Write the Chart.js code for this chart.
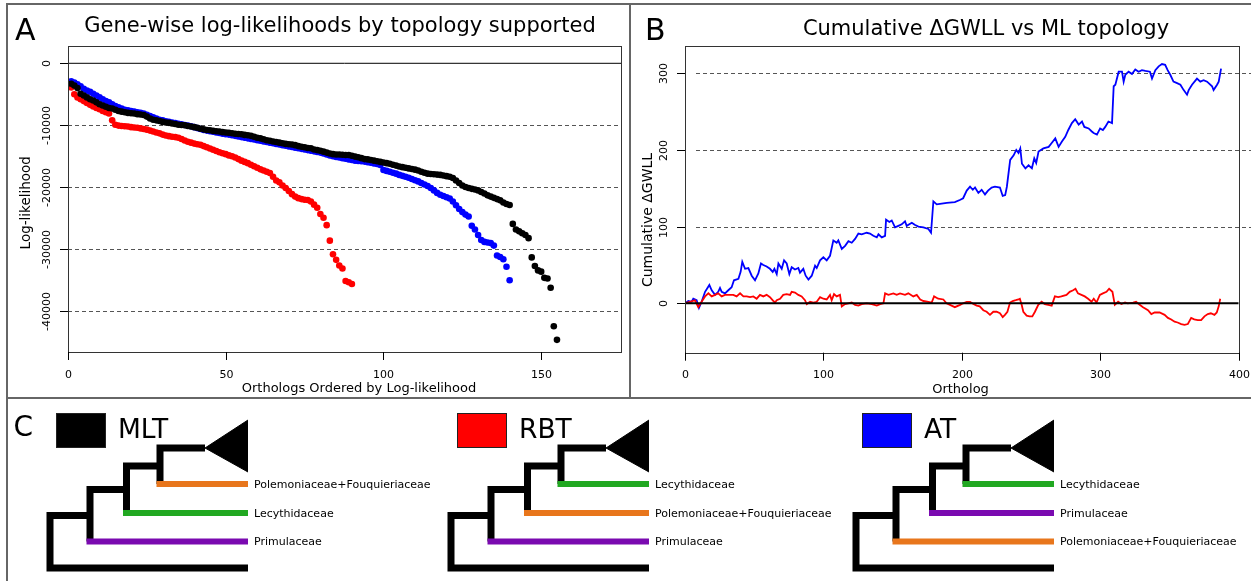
<!DOCTYPE html>
<html>
<head>
<meta charset="utf-8">
<script src="https://cdn.jsdelivr.net/npm/chart.js@4.4.1/dist/chart.umd.min.js"></script>
<style>
  body { margin: 0; background: #fff; width: 1251px; height: 581px; overflow: hidden; position: relative;
         font-family: "DejaVu Sans", sans-serif; color: #000; }
  canvas, .t, .ln { position: absolute; }
  .t { white-space: nowrap; }
  .ln { background: #666; }
</style>
</head>
<body>
<div class="ln" style="left:6px;top:3px;width:1245px;height:2px"></div>
<div class="ln" style="left:6px;top:3px;width:2px;height:578px"></div>
<div class="ln" style="left:629px;top:3px;width:2px;height:396px"></div>
<div class="ln" style="left:6px;top:397px;width:1245px;height:2px"></div>

<canvas id="chartA" width="629" height="398" style="left:0;top:0"></canvas>
<canvas id="chartB" width="622" height="398" style="left:629px;top:0"></canvas>
<canvas id="chartC" width="1251" height="183" style="left:0;top:398px"></canvas>

<script>
// --- Panel A: gene-wise log-likelihoods, sorted, one array per topology ---
const aMLT = [
  -3300,-3600,-4000,-4900,-5200,-5500,-5800,-6000,-6300,-6600,
  -6800,-7000,-7200,-7300,-7500,-7700,-7800,-7900,-8000,-8050,
  -8100,-8200,-8250,-8350,-8600,-8900,-9100,-9200,-9300,-9450,
  -9550,-9600,-9700,-9800,-9900,-9950,-10000,-10100,-10200,-10300,
  -10400,-10550,-10650,-10750,-10800,-10900,-10950,-11000,-11100,-11150,
  -11200,-11280,-11350,-11400,-11450,-11550,-11600,-11700,-11850,-12000,
  -12100,-12250,-12400,-12500,-12600,-12700,-12800,-12900,-13000,-13050,
  -13100,-13200,-13350,-13450,-13550,-13650,-13700,-13900,-14000,-14100,
  -14250,-14400,-14550,-14650,-14700,-14720,-14750,-14780,-14800,-14900,
  -15050,-15150,-15300,-15450,-15500,-15600,-15700,-15800,-15900,-16000,
  -16100,-16200,-16350,-16500,-16650,-16750,-16850,-16950,-17050,-17150,
  -17300,-17500,-17650,-17800,-17850,-17900,-17950,-18000,-18100,-18200,
  -18300,-18500,-18900,-19300,-19700,-19950,-20100,-20250,-20350,-20500,
  -20750,-21000,-21300,-21500,-21700,-21900,-22100,-22450,-22700,-22850,
  -25900,-26800,-27100,-27400,-27700,-28200,-31300,-32700,-33400,-33600,
  -34600,-34700,-36200,-42400,-44600
];
const aAT = [
  -2900,-3100,-3400,-3700,-4100,-4400,-4600,-4900,-5200,-5500,
  -5800,-6100,-6300,-6600,-6900,-7100,-7300,-7500,-7600,-7700,
  -7800,-7900,-8000,-8100,-8300,-8500,-8700,-8900,-9100,-9200,
  -9350,-9450,-9550,-9650,-9750,-9850,-9950,-10050,-10150,-10300,
  -10450,-10600,-10750,-10850,-10950,-11050,-11150,-11250,-11350,-11450,
  -11500,-11600,-11700,-11800,-11900,-12000,-12100,-12200,-12300,-12400,
  -12500,-12600,-12700,-12800,-12900,-13000,-13100,-13200,-13300,-13400,
  -13500,-13600,-13700,-13800,-13900,-14000,-14100,-14200,-14300,-14400,
  -14550,-14700,-14850,-15000,-15100,-15200,-15300,-15400,-15500,-15600,
  -15700,-15750,-15800,-15850,-15950,-16050,-16150,-16250,-16400,-17200,
  -17350,-17500,-17650,-17800,-18000,-18150,-18300,-18450,-18650,-18850,
  -19050,-19300,-19550,-19800,-20100,-20500,-20900,-21200,-21400,-21600,
  -21800,-22300,-22900,-23500,-24000,-24400,-24700,-26200,-26800,-27700,
  -28500,-28800,-28900,-29000,-29400,-31000,-31250,-31600,-32800,-35000
];
const aRBT = [
  -3900,-5000,-5500,-5800,-6100,-6400,-6700,-6950,-7200,-7400,
  -7700,-7900,-8100,-9200,-9900,-10050,-10100,-10150,-10200,-10300,
  -10350,-10400,-10500,-10600,-10700,-10850,-11000,-11150,-11300,-11500,
  -11650,-11750,-11850,-11900,-12000,-12200,-12450,-12650,-12800,-12950,
  -13050,-13150,-13350,-13550,-13750,-13950,-14150,-14350,-14500,-14650,
  -14850,-15000,-15200,-15450,-15700,-15900,-16100,-16350,-16600,-16850,
  -17100,-17300,-17500,-17700,-18300,-18900,-19200,-19700,-20100,-20600,
  -21100,-21500,-21750,-21900,-22000,-22050,-22300,-22800,-23300,-24300,
  -24900,-26100,-28600,-30800,-31700,-32600,-33100,-35100,-35300,-35600
];
const aXTicks = [0, 50, 100, 150];
const aXLabels = ['0', '50', '100', '150'];
const aYTicks = [0, -10000, -20000, -30000, -40000];
const aYLabels = ['0', '-10000', '-20000', '-30000', '-40000'];
const aDashed = [-10000, -20000, -30000, -40000];

// --- Panel B: cumulative delta GWLL along orthologs ---
const bBlueX = [0,2.4,4.8,6,8.4,10.1,12,14.5,17.6,19.3,21.7,24,25.3,26.5,28.9,31.3,33.7,35.4,38.6,40.2,
  41.4,43.4,45.8,48.2,50.6,53,54.9,56.6,59,61.4,63.4,64.6,66.3,67.5,69.9,71.6,73.5,75.4,77.1,79.5,
  81.9,83.1,85.5,87.2,89.2,91.6,94,95.2,97.6,100,102.4,104.8,107.2,109.6,110.8,113.3,115.7,118.1,120.5,122.9,
  125.3,127.7,131.3,133.7,136.1,138.6,139.8,142.2,144.6,145.3,147.7,149.4,151.8,154.2,156.6,159,160.2,163.9,166.3,168.7,
  172.3,175.9,177.8,179.5,181.9,185.5,189.2,195,199,201,203.6,206,208,209.6,212,214.4,216.8,219,221.6,224,
  227.6,229.6,231.4,232.6,235,237.5,239.4,241,242.3,243.5,246,248.3,250.7,252.4,253.8,255.5,259,262.8,265,267.6,
  270,272.4,274.8,277,279.6,282,284.5,286.9,288.6,291.7,294,295.3,297.7,300,302,303.7,306,308.6,309.8,311,
  313.4,315.8,317,318.2,320.6,323,325.4,327.8,330.2,332.7,336,337.5,339.9,342.3,344.7,347,348.8,350.7,353,355.6,
  358,360.4,362.8,364,366.4,370,372.4,374.8,377.3,380.9,382,384.5,385.7,387.4];
const bBlueY = [0,3,2,6,4,-6,2,15,24,17,11,15,20,15,13,17,21,30,32,41,
  54,45,46,36,30,39,52,50,48,45,41,45,38,52,45,56,52,38,47,44,
  46,40,45,36,31,36,49,46,56,60,56,62,82,79,82,71,75,81,79,84,
  91,90,92,91,88,86,90,86,88,109,106,108,99,101,103,107,101,105,102,100,
  99,97,92,133,129,130,131,132,135,137,147,152,148,151,144,148,142,147,151,152,
  151,140,141,152,187,193,200,196,202,182,176,180,176,189,183,198,202,204,209,215,
  204,211,217,226,235,240,233,237,230,228,224,222,220,228,226,230,237,235,283,285,
  302,302,289,298,302,299,305,302,304,303,302,293,304,309,312,311,304,298,289,287,
  285,278,272,278,285,293,289,291,289,283,278,285,289,306];
const bRedX = [0,3.6,7.2,9.6,12,14.5,16.9,19.3,21.7,24,26.5,28.9,32.5,34.9,37.3,39.8,42.2,44.6,47,49.4,
  51.8,54.2,56.6,59,61.4,63.9,65,66.3,68.7,71,73.5,75.9,77.1,79.5,81.9,84.3,86.7,88,90.4,92.8,
  95.2,97.6,100,102.4,104.8,106,107.7,109.6,112,113.3,115.7,118.1,120.5,122.9,125.3,127.7,131.3,135,138.6,141,
  143.4,144.6,147,150.6,153,155.4,159,161.4,165,167.5,170,172.3,175.9,178.3,180,183,186.7,189,195,198.8,
  201,203.6,206,208.4,210.8,213,215.6,218,220.4,222.8,225.2,227.6,229.6,231.2,233,234.9,236.8,239,241,242,
  243.3,244.5,246.9,249,251,252.9,255.3,257.7,260,262.5,265,267.3,269.7,272,275.7,278,280.5,282.2,284,286.5,
  288.9,291.3,293.8,295.4,297.4,299.8,302,304.6,306.5,308.9,310.6,313,315.4,318,320,323.8,326,328.6,331,334.6,
  337,339.4,343,346.6,349,351.4,353.8,356,358.6,361,363.4,365.8,368,370.6,373,375.4,377.8,380,382.6,384.3,
  385.7,386.8];
const bRedY = [0,2,4,-5,2,9,13,9,11,13,9,11,11,11,9,13,9,9,8,9,
  6,11,9,11,8,3,1,4,6,11,12,11,15,14,11,9,4,-1,2,1,
  2,8,6,5,11,4,12,9,11,-4,-1,0,1,-2,-3,-1,0,-1,-3,-1,
  0,13,11,13,11,13,11,13,9,11,5,3,2,1,9,6,5,0,-5,-2,
  0,2,2,-1,-3,-4,-9,-11,-15,-11,-11,-13,-18,-15,-11,1,3,4,5,6,
  -2,-11,-16,-17,-17,-11,-2,2,-1,-2,-3,9,8,9,11,15,17,19,13,11,
  9,6,2,6,1,11,13,15,19,15,-2,2,-1,1,0,1,2,-2,-5,-9,
  -14,-12,-12,-15,-19,-21,-24,-25,-27,-28,-27,-19,-21,-22,-22,-17,-14,-13,-15,-12,
  -4,6];
const bXTicks = [0, 100, 200, 300, 400];
const bXLabels = ['0', '100', '200', '300', '400'];
const bYTicks = [0, 100, 200, 300];
const bYLabels = ['0', '100', '200', '300'];
const bDashed = [100, 200, 300];

// --- Panel C: the three topologies ---
const treeNames = ['MLT', 'RBT', 'AT'];
const treeSwatch = ['#000000', '#ff0000', '#0000ff'];
const treeTips = [
  ['Polemoniaceae+Fouquieriaceae', 'Lecythidaceae', 'Primulaceae'],
  ['Lecythidaceae', 'Polemoniaceae+Fouquieriaceae', 'Primulaceae'],
  ['Lecythidaceae', 'Primulaceae', 'Polemoniaceae+Fouquieriaceae']
];
const tipColors = {
  'Polemoniaceae+Fouquieriaceae': '#e8761c',
  'Lecythidaceae': '#21a821',
  'Primulaceae': '#7a0ab0'
};

// layout of the tree drawings (page pixels)
const treeRoots = [50, 451, 856];
const nodeDepth = [0, 40, 76.5, 110];
const apexDepth = 155, tipDepth = 198;
const rowY = [13, 39.5, 68, 97, 133];   // height above panel bottom: outgroup, tip 3, tip 2, tip 1, clade

// --- text helpers (DOM text, baseline placed) ---
function addText(str, x, base, size, center) {
  const el = document.createElement('div');
  el.className = 't';
  el.textContent = str;
  el.style.fontSize = size + 'px';
  el.style.lineHeight = size + 'px';
  el.style.top = (base - 0.846 * size) + 'px';
  if (center) {
    el.style.left = (x - 300) + 'px';
    el.style.width = '600px';
    el.style.textAlign = 'center';
  } else {
    el.style.left = x + 'px';
  }
  document.body.appendChild(el);
  return el;
}
function addVText(str, baseX, cy, size) {
  const el = document.createElement('div');
  el.className = 't';
  el.textContent = str;
  el.style.fontSize = size + 'px';
  el.style.lineHeight = size + 'px';
  el.style.width = '300px';
  el.style.textAlign = 'center';
  el.style.left = (baseX - 0.346 * size - 150) + 'px';
  el.style.top = (cy - size / 2) + 'px';
  el.style.transform = 'rotate(-90deg)';
  document.body.appendChild(el);
}

// base-R style axes: box, outside ticks, rotated y labels, reference lines
const rAxes = {
  id: 'rAxes',
  beforeDatasetsDraw(chart, args, o) {
    const { ctx, chartArea: a, scales: { y } } = chart;
    ctx.save();
    ctx.lineWidth = 1;
    ctx.strokeStyle = '#555';
    ctx.setLineDash([4, 3]);
    o.dashed.forEach(v => {
      const py = Math.round(y.getPixelForValue(v)) + 0.5;
      ctx.beginPath();
      ctx.moveTo(a.left + (o.dashStart || 0), py);
      ctx.lineTo(o.dashToEdge ? chart.width : a.right, py);
      ctx.stroke();
    });
    ctx.restore();
  },
  afterDatasetsDraw(chart, args, o) {
    const { ctx, chartArea: a, scales: { x, y } } = chart;
    ctx.save();
    ctx.setLineDash([]);
    // zero line
    ctx.strokeStyle = '#000';
    ctx.lineWidth = o.zeroWidth;
    const zy = y.getPixelForValue(0);
    ctx.beginPath(); ctx.moveTo(a.left, zy); ctx.lineTo(a.right, zy); ctx.stroke();
    // box
    ctx.lineWidth = 1;
    ctx.strokeStyle = '#333';
    ctx.strokeRect(Math.round(a.left) + 0.5, Math.round(a.top) + 0.5,
                   Math.round(a.right - a.left), Math.round(a.bottom - a.top));
    // ticks
    ctx.strokeStyle = '#000';
    ctx.fillStyle = '#000';
    ctx.font = '11px "DejaVu Sans"';
    ctx.textAlign = 'center';
    ctx.textBaseline = 'alphabetic';
    o.xTicks.forEach((v, i) => {
      const px = Math.round(x.getPixelForValue(v)) + 0.5;
      ctx.beginPath(); ctx.moveTo(px, a.bottom); ctx.lineTo(px, a.bottom + 8); ctx.stroke();
      ctx.fillText(o.xLabels[i], px, a.bottom + o.xLabelOff);
    });
    o.yTicks.forEach((v, i) => {
      const py = Math.round(y.getPixelForValue(v)) + 0.5;
      ctx.beginPath(); ctx.moveTo(a.left - 8, py); ctx.lineTo(a.left, py); ctx.stroke();
      ctx.save();
      ctx.translate(a.left - o.yLabelOff, py);
      ctx.rotate(-Math.PI / 2);
      ctx.fillText(o.yLabels[i], 0, 0);
      ctx.restore();
    });
    ctx.restore();
  }
};

const common = {
  responsive: false,
  animation: false,
  devicePixelRatio: 1,
  events: [],
  plugins: { legend: { display: false }, tooltip: { enabled: false } }
};

// Panel A
new Chart(document.getElementById('chartA'), {
  type: 'scatter',
  data: {
    datasets: [
      { data: aMLT.map((v, i) => ({ x: i + 1, y: v })), backgroundColor: '#000000', order: 0 },
      { data: aAT.map((v, i) => ({ x: i + 1, y: v })), backgroundColor: '#0000ff', order: 1 },
      { data: aRBT.map((v, i) => ({ x: i + 1, y: v })), backgroundColor: '#ff0000', order: 2 }
    ].map(d => ({ ...d, pointRadius: 3.3, borderWidth: 0, pointStyle: 'circle' }))
  },
  options: {
    ...common,
    layout: { padding: { left: 68, top: 46, right: 8, bottom: 46 } },
    scales: {
      x: { type: 'linear', display: false, min: 0, max: 175.3 },
      y: { type: 'linear', display: false, min: -46560, max: 2790 }
    },
    plugins: {
      ...common.plugins,
      rAxes: { dashed: aDashed, zeroWidth: 1, xTicks: aXTicks, xLabels: aXLabels,
               yTicks: aYTicks, yLabels: aYLabels, xLabelOff: 26, yLabelOff: 18 }
    }
  },
  plugins: [rAxes]
});

// Panel B
new Chart(document.getElementById('chartB'), {
  type: 'line',
  data: {
    datasets: [
      { data: bRedX.map((x, i) => ({ x, y: bRedY[i] })), borderColor: '#ff0000', order: 0 },
      { data: bBlueX.map((x, i) => ({ x, y: bBlueY[i] })), borderColor: '#0000ff', order: 1 }
    ].map(d => ({ ...d, borderWidth: 1.8, pointRadius: 0, tension: 0, fill: false }))
  },
  options: {
    ...common,
    layout: { padding: { left: 56, top: 46, right: 12.5, bottom: 45.3 } },
    scales: {
      x: { type: 'linear', display: false, min: 0, max: 400 },
      y: { type: 'linear', display: false, min: -64.4, max: 335.5 }
    },
    plugins: {
      ...common.plugins,
      rAxes: { dashed: bDashed, dashStart: 11, dashToEdge: true, zeroWidth: 2,
               xTicks: bXTicks, xLabels: bXLabels, yTicks: bYTicks, yLabels: bYLabels,
               xLabelOff: 25, yLabelOff: 18 }
    }
  },
  plugins: [rAxes]
});

// Panel C: trees built from the layout arrays
const treeSets = [];
function seg(pts, color, width, order) {
  return { data: pts.map(([x, y]) => ({ x, y })), borderColor: color, borderWidth: width,
           pointRadius: 0, tension: 0, fill: false, borderJoinStyle: 'miter', borderCapStyle: 'butt', order };
}
treeRoots.forEach((r, t) => {
  const [y0, y1, y2, y3, y4] = rowY;
  const m4 = (y3 + y4) / 2, m3 = (y2 + m4) / 2, m2 = (y1 + m3) / 2;
  const [d0, d1, d2, d3] = nodeDepth.map(d => r + d);
  const end = r + tipDepth, apex = r + apexDepth;
  treeSets.push(seg([[end, y0], [d0, y0], [d0, m2], [d1, m2]], '#000', 7, 2));
  treeSets.push(seg([[d1, y1], [d1, m3], [d2, m3]], '#000', 7, 2));
  treeSets.push(seg([[d2, y2], [d2, m4], [d3, m4]], '#000', 7, 2));
  treeSets.push(seg([[d3, y3], [d3, y4], [apex, y4]], '#000', 7, 2));
  [[d3, y3], [d2, y2], [d1, y1]].forEach(([dx, yy], k) => {
    treeSets.push(seg([[dx - 3.5, yy], [end, yy]], tipColors[treeTips[t][k]], 6, 1));
  });
  treeSets.push({ ...seg([[apex, y4], [end, y4 + 28]], '#000', 1, 0), backgroundColor: '#000' });
  treeSets.push({ ...seg([[apex, y4], [end, y4 - 24]], '#000', 1, 0), backgroundColor: '#000', fill: '-1' });
});
new Chart(document.getElementById('chartC'), {
  type: 'line',
  data: { datasets: treeSets },
  options: {
    ...common,
    layout: { padding: 0 },
    scales: {
      x: { type: 'linear', display: false, min: 0, max: 1251 },
      y: { type: 'linear', display: false, min: 0, max: 183 }
    }
  }
});

// DOM text and swatches
addText('A', 15, 40, 30);
addText('B', 645, 40, 30);
addText('C', 13.5, 437, 28);
addText('Gene-wise log-likelihoods by topology supported', 340, 32.5, 21, true);
addText('Cumulative \u0394GWLL vs ML topology', 986, 36, 21, true);
addText('Orthologs Ordered by Log-likelihood', 359, 392, 13, true);
addText('Ortholog', 960.5, 393, 13, true);
addVText('Log-likelihood', 30.7, 202.5, 13.5);
addVText('Cumulative \u0394GWLL', 652, 220, 14);

treeRoots.forEach((r, t) => {
  const sw = document.createElement('div');
  sw.style.cssText = `position:absolute;left:${r + 6}px;top:413px;width:50px;height:35px;` +
    `background:${treeSwatch[t]};box-sizing:border-box;border:1px solid #222`;
  document.body.appendChild(sw);
  addText(treeNames[t], r + 68, 438.5, 26.5);
  [rowY[3], rowY[2], rowY[1]].forEach((yy, k) => {
    addText(treeTips[t][k], r + 204, 581 - yy + 4, 11);
  });
});
</script>
</body>
</html>
